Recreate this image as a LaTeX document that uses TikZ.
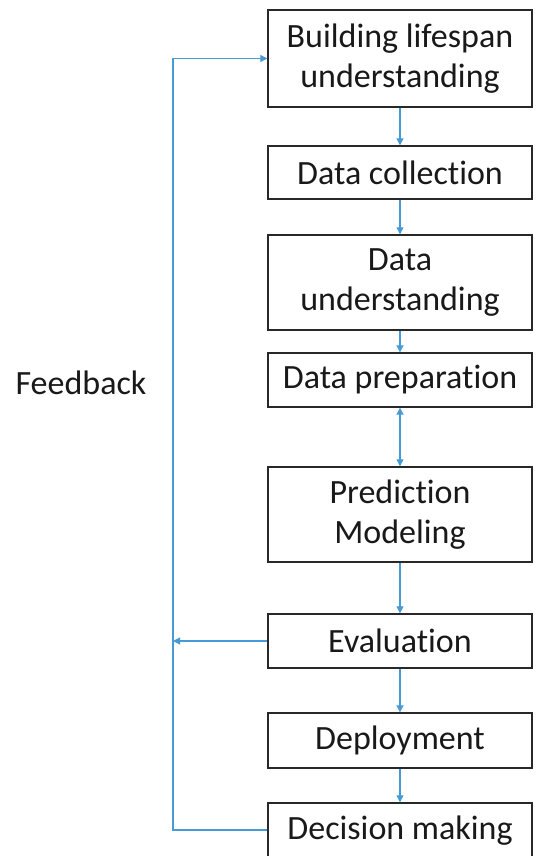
\documentclass[tikz,border=0pt]{standalone}
\usepackage{fontspec}
\setmainfont[Ligatures=CommonOff]{Carlito}
\usetikzlibrary{arrows.meta}
\definecolor{arrowblue}{RGB}{70,155,215}
\definecolor{boxline}{RGB}{40,40,40}
\definecolor{txt}{RGB}{25,25,25}
\begin{document}
\begin{tikzpicture}[x=1pt,y=-1pt,
  stepbox/.style={draw=boxline,line width=1.4pt,text=txt,inner sep=0pt,
    font=\fontsize{34}{40}\selectfont,align=center},
  flow/.style={draw=arrowblue,line width=1.1pt,-{Triangle[length=7pt,width=7pt]}},
  dflow/.style={draw=arrowblue,line width=1.1pt,{Triangle[length=7pt,width=7pt]}-{Triangle[length=7pt,width=7pt]}}]
\useasboundingbox (0,0) rectangle (536,856);
\path[fill=white] (0,0) rectangle (536,856);
% boxes: x 268..532
\node[stepbox,minimum width=264pt,minimum height=97pt] (b1) at (400,58.5) {Building lifespan\\understanding};
\node[stepbox,minimum width=264pt,minimum height=53pt] (b2) at (400,172.5) {Data collection};
\node[stepbox,minimum width=264pt,minimum height=95pt] (b3) at (400,282.5) {Data\\understanding};
\node[stepbox,minimum width=264pt,minimum height=54pt] (b4) at (400,380) {Data preparation};
\node[stepbox,minimum width=264pt,minimum height=95pt] (b5) at (400,514.5) {Prediction\\Modeling};
\node[stepbox,minimum width=264pt,minimum height=54pt] (b6) at (400,641) {Evaluation};
\node[stepbox,minimum width=264pt,minimum height=55pt] (b7) at (400,740.5) {Deployment};
\node[stepbox,minimum width=264pt,minimum height=56pt] (b8) at (400,831) {Decision making};
\node[text=txt,font=\fontsize{34}{40}\selectfont,inner sep=0pt] (fb) at (81,383) {Feedback};
% vertical flow
\draw[flow] (b1) -- (b2);
\draw[flow] (b2) -- (b3);
\draw[flow] (b3) -- (b4);
\draw[dflow] (b4) -- (b5);
\draw[flow] (b5) -- (b6);
\draw[flow] (b6) -- (b7);
\draw[flow] (b7) -- (b8);
% feedback loop
\coordinate (fbtop) at (173,58.5);
\coordinate (fbbot) at (173,830);
\coordinate (fbev) at (173,641);
\draw[draw=arrowblue,line width=1.1pt] (b8.west |- fbbot) -- (fbbot) -- (fbtop);
\draw[flow] (fbtop) -- (b1.west);
\draw[flow] (b6.west) -- (fbev);
\end{tikzpicture}
\end{document}
